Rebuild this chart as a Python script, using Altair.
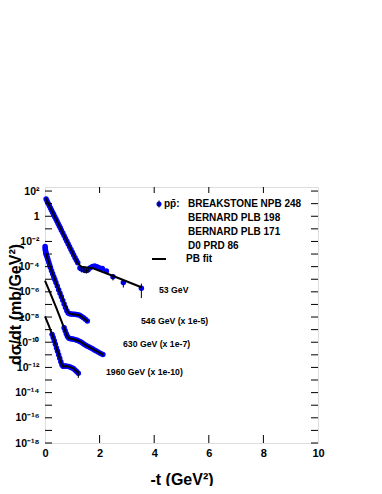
import altair as alt
import pandas as pd

# ---------------- data ----------------
# 53 GeV  (BREAKSTONE NPB 248)
t53 = [0.04, 0.08, 0.12, 0.16, 0.20, 0.24, 0.28, 0.32, 0.36, 0.40, 0.44, 0.48, 0.52, 0.56,
       0.60, 0.65, 0.70, 0.75, 0.80, 0.85, 0.90, 0.95, 1.00, 1.05, 1.10, 1.15, 1.20,
       1.28, 1.34, 1.40, 1.46, 1.52, 1.58, 1.66, 1.74, 1.82, 1.90, 1.98, 2.10, 2.25,
       2.49, 2.87, 3.53]
v53 = [23, 15.5, 10.2, 6.8, 4.6, 3.0, 2.0, 1.35, 0.89, 0.60, 0.40, 0.27, 0.18, 0.12,
       0.079, 0.048, 0.029, 0.0174, 0.0105, 6.3e-3, 3.8e-3, 2.3e-3, 1.38e-3, 8.3e-4, 5.0e-4, 3.2e-4, 2.0e-4,
       7.9e-5, 6.6e-5, 6.0e-5, 5.2e-5, 5.0e-5, 5.6e-5, 8.3e-5, 1.05e-4, 1.12e-4, 1.0e-4, 8.3e-5, 7.1e-5, 4.5e-5,
       1.6e-5, 5.6e-6, 1.9e-6]
fit53_t = [0.02, 0.60, 1.20, 1.33, 1.76, 2.50, 3.53]
fit53_v = [28.2, 0.079, 1.82e-4, 1.0e-4, 7.4e-5, 1.8e-5, 2.3e-6]

# 546 GeV (x 1e-5)
t546 = [0.004, 0.008, 0.012, 0.017, 0.023, 0.03, 0.04, 0.05, 0.07, 0.09, 0.11, 0.14, 0.17, 0.20,
        0.24, 0.28, 0.32, 0.36, 0.40, 0.45, 0.50, 0.55, 0.60, 0.65, 0.70, 0.75, 0.80, 0.85,
        0.90, 0.96, 1.02, 1.08, 1.14, 1.20, 1.27, 1.34, 1.41, 1.48, 1.55]
v546 = [4.0e-3, 3.0e-3, 2.4e-3, 1.9e-3, 1.5e-3, 1.26e-3, 1.05e-3, 8.9e-4, 6.6e-4, 4.8e-4, 3.5e-4, 2.2e-4, 1.38e-4, 8.7e-5,
        4.8e-5, 2.75e-5, 1.6e-5, 9.5e-6, 5.6e-6, 2.9e-6, 1.48e-6, 7.8e-7, 4.0e-7, 2.1e-7, 1.07e-7, 5.6e-8, 3.2e-8, 2.1e-8,
        1.82e-8, 1.74e-8, 1.7e-8, 1.66e-8, 1.58e-8, 1.51e-8, 1.38e-8, 1.12e-8, 8.7e-9, 6.6e-9, 4.8e-9]
fit546_t = [0.03, 0.23, 0.53, 0.84, 0.90, 1.10, 1.27, 1.57]
fit546_v = [1.12e-3, 5.4e-5, 1.02e-6, 2.4e-8, 1.86e-8, 1.58e-8, 1.38e-8, 4.3e-9]

# 630 GeV (x 1e-7)
t630 = [0.70, 0.74, 0.78, 0.82, 0.86, 0.90, 0.95, 1.00, 1.06, 1.12, 1.18, 1.24, 1.30, 1.36,
        1.42, 1.48, 1.54, 1.60, 1.67, 1.74, 1.81, 1.88, 1.96, 2.04, 2.12]
v630 = [1.41e-9, 8.3e-10, 4.8e-10, 3.0e-10, 2.24e-10, 2.0e-10, 1.9e-10, 1.82e-10, 1.7e-10, 1.55e-10, 1.41e-10,
        1.26e-10, 1.1e-10, 8.9e-11, 7.2e-11, 6.0e-11, 5.1e-11, 4.4e-11, 3.6e-11, 3.0e-11, 2.45e-11, 2.0e-11,
        1.62e-11, 1.29e-11, 1.05e-11]
fit630_t = [0.0, 0.2, 0.4, 0.6, 0.8, 0.86, 1.0, 1.27, 1.46, 1.8, 2.14]
fit630_v = [7.9e-6, 7.1e-7, 6.3e-8, 5.0e-9, 3.5e-10, 2.1e-10, 1.78e-10, 1.2e-10, 6.3e-11, 2.5e-11, 1.0e-11]

# 1960 GeV (x 1e-10)
t1960 = [0.26, 0.30, 0.34, 0.38, 0.42, 0.46, 0.50, 0.54, 0.58, 0.62, 0.66, 0.70, 0.75, 0.80,
         0.86, 0.92, 0.98, 1.04, 1.10, 1.16, 1.22]
v1960 = [4.2e-10, 2.4e-10, 1.32e-10, 6.9e-11, 3.5e-11, 1.9e-11, 1.0e-11, 5.4e-12, 2.8e-12, 1.66e-12,
         1.26e-12, 1.26e-12, 1.32e-12, 1.26e-12, 1.17e-12, 1.07e-12, 9.5e-13, 8.3e-13, 6.3e-13, 4.8e-13, 3.5e-13]
fit1960_t = [0.0, 0.15, 0.30, 0.45, 0.60, 0.66, 0.80, 1.03, 1.22]
fit1960_v = [1.12e-8, 1.78e-9, 2.5e-10, 2.24e-11, 2.0e-12, 1.2e-12, 1.26e-12, 8.9e-13, 3.5e-13]

# visible error bars
err_t = [1.28, 1.34, 1.40, 1.46, 1.52, 1.58, 2.49, 2.87, 3.53, 1.22]
err_lo = [4.5e-5, 3.5e-5, 3.4e-5, 3.0e-5, 2.9e-5, 3.4e-5, 8.0e-6, 2.2e-6, 3.2e-7, 1.45e-13]
err_hi = [1.1e-4, 9.5e-5, 8.6e-5, 7.4e-5, 7.1e-5, 7.8e-5, 2.4e-5, 9.0e-6, 4.5e-6, 5.0e-13]

x_ticks = [0, 2, 4, 6, 8, 10]
y_label_exps = [-18, -16, -14, -12, -10, -8, -6, -4, -2, 0, 2]
y_tick_exps = list(range(-18, 3))

annotations = ["53 GeV", "546 GeV (x 1e-5)", "630 GeV (x 1e-7)", "1960 GeV (x 1e-10)"]
legend_rows = ["BREAKSTONE NPB 248", "BERNARD PLB 198", "BERNARD PLB 171", "D0 PRD 86"]

# ---------------- tables ----------------
pts = pd.concat([
    pd.DataFrame({"t": t53, "v": v53, "s": "53"}),
    pd.DataFrame({"t": t546, "v": v546, "s": "546"}),
    pd.DataFrame({"t": t630, "v": v630, "s": "630"}),
    pd.DataFrame({"t": t1960, "v": v1960, "s": "1960"}),
])
fits = pd.concat([
    pd.DataFrame({"t": fit53_t, "v": fit53_v, "s": "53"}),
    pd.DataFrame({"t": fit546_t, "v": fit546_v, "s": "546"}),
    pd.DataFrame({"t": fit630_t, "v": fit630_v, "s": "630"}),
    pd.DataFrame({"t": fit1960_t, "v": fit1960_v, "s": "1960"}),
])
errs = pd.DataFrame({"t": err_t, "v": err_lo, "hi": err_hi})
xt = pd.DataFrame({"t": x_ticks[1:-1]})
yt = pd.DataFrame({"v": [10.0 ** e for e in y_tick_exps]})

W, H = 273, 256
FONT = "Liberation Sans"

sup = str.maketrans("0123456789-", "⁰¹²³⁴⁵⁶⁷⁸⁹⁻")
def lab(e):
    return "1" if e == 0 else "10" + str(e).translate(sup)
expr = ""
for e in y_label_exps:
    expr += f"round(log(datum.value)/LN10) == {e} ? '{lab(e)}' : "
expr += "''"

xs = alt.Scale(domain=[0, 10], nice=False, zero=False)
ys = alt.Scale(type="log", domain=[1e-18, 2.1e2], nice=False)

x_axis = alt.Axis(values=x_ticks, format="d", title="-t (GeV²)", ticks=False, domain=False,
                  grid=False, labelPadding=4, labelFlush=False, labelFont=FONT, labelFontSize=11,
                  labelFontWeight="bold", labelColor="black", titleFont=FONT, titleFontSize=16,
                  titleFontWeight="bold", titleColor="black", titleY=41,
                  titleBaseline="alphabetic")
y_axis = alt.Axis(values=[10.0 ** e for e in y_label_exps], labelExpr=expr, title="dσ/dt (mb/GeV²)",
                  ticks=False, domain=False, grid=False, labelPadding=6, labelFlush=False,
                  labelFont=FONT, labelFontSize=10.5, labelFontWeight="bold", labelColor="black",
                  titleFont=FONT, titleFontSize=16, titleFontWeight="bold", titleColor="black",
                  titleX=-25, titleY=117, titleAngle=270, titleAlign="center",
                  titleBaseline="alphabetic")

X = alt.X("t:Q", scale=xs, axis=x_axis)
Y = alt.Y("v:Q", scale=ys, axis=y_axis)

base_pts = alt.Chart(pts).mark_circle(color="#0000ff", opacity=1, size=30).encode(
    x=X, y=Y, detail="s:N")
err_layer = alt.Chart(errs).mark_rule(color="black", strokeWidth=1).encode(
    x=X, y=Y, y2="hi:Q")
fit_layer = alt.Chart(fits).mark_line(color="black", strokeWidth=2).encode(
    x=X, y=Y, detail="s:N")

tick_l = alt.Chart(yt).mark_rule(color="black").encode(
    y=Y, x=alt.value(0), x2=alt.value(7))
tick_r = alt.Chart(yt).mark_rule(color="black").encode(
    y=Y, x=alt.value(W - 7), x2=alt.value(W))
tick_b = alt.Chart(xt).mark_rule(color="black").encode(
    x=X, y=alt.value(H), y2=alt.value(H - 8))
tick_t = alt.Chart(xt).mark_rule(color="black").encode(
    x=X, y=alt.value(0), y2=alt.value(6))

txt = dict(font=FONT, fontWeight="bold", color="black", align="left", baseline="middle")
ann_pos = [(114, 103), (96, 134), (78, 157), (61, 185)]
ann_layers = [
    alt.Chart(pd.DataFrame({"a": [a]})).mark_text(fontSize=8.7, **txt).encode(
        text="a:N", x=alt.value(px), y=alt.value(py))
    for a, (px, py) in zip(annotations, ann_pos)
]

leg_y = [17, 31, 45, 59]
leg_layers = [
    alt.Chart(pd.DataFrame({"a": [r]})).mark_text(fontSize=10, **txt).encode(
        text="a:N", x=alt.value(143), y=alt.value(ly))
    for r, ly in zip(legend_rows, leg_y)
]
leg_pp = alt.Chart(pd.DataFrame({"a": ["pp̄:"]})).mark_text(fontSize=10, **txt).encode(
    text="a:N", x=alt.value(119), y=alt.value(17))
leg_fit = alt.Chart(pd.DataFrame({"a": ["PB fit"]})).mark_text(fontSize=10, **txt).encode(
    text="a:N", x=alt.value(141), y=alt.value(72))
leg_dot = alt.Chart(pd.DataFrame({"a": [1]})).mark_circle(color="#0000ff", opacity=1, size=26).encode(
    x=alt.value(114), y=alt.value(17))
leg_bar = alt.Chart(pd.DataFrame({"a": [1]})).mark_rule(color="black").encode(
    x=alt.value(114), y=alt.value(13.5), y2=alt.value(20.5))
leg_line = alt.Chart(pd.DataFrame({"a": [1]})).mark_rule(color="black", strokeWidth=2).encode(
    x=alt.value(107), x2=alt.value(121), y=alt.value(72))

chart = alt.layer(
    base_pts, err_layer, fit_layer, tick_l, tick_r, tick_b, tick_t,
    *ann_layers, *leg_layers, leg_pp, leg_fit, leg_dot, leg_bar, leg_line,
).properties(
    width=W, height=H,
    autosize=alt.AutoSizeParams(type="none"),
    padding={"left": 37, "top": 179, "right": 56, "bottom": 43},
).configure_view(stroke="black", strokeWidth=1).configure(background="white")

chart.save("out.html", embed_options={"renderer": "svg", "actions": False})
